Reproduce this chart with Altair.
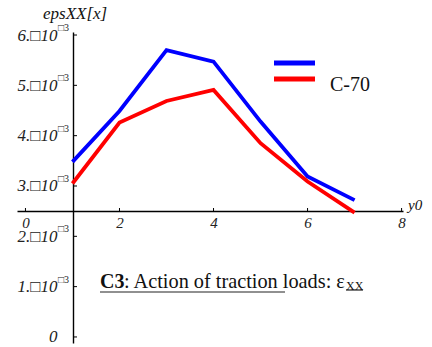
import altair as alt
import pandas as pd

# Strain values (in units of 1e-3) along y0 for the two load cases
y0 = [1, 2, 3, 4, 5, 6, 7]
eps_blue = [3.48, 4.49, 5.70, 5.47, 4.28, 3.19, 2.72]
eps_red = [3.05, 4.26, 4.69, 4.91, 3.85, 3.09, 2.47]
series_names = ["S1", "C-70"]
series_colors = ["#0000ff", "#ff0000"]

y_ticks = [0, 0.001, 0.002, 0.003, 0.004, 0.005, 0.006]
x_ticks = [0, 2, 4, 6, 8]

rows = []
for name, vals in zip(series_names, [eps_blue, eps_red]):
    for xv, v in zip(y0, vals):
        rows.append({"y0": xv, "eps": v * 1e-3, "series": name})
df = pd.DataFrame(rows)

FONT = "Liberation Serif"
W, H = 386, 311
X_DOM = [-0.18, 8.03]
Y_DOM = [-0.00012, 0.00606]
X_CROSS_OFFSET = -132   # x axis drawn at eps = 2.5e-3
Y_CROSS_OFFSET = -56    # y axis drawn at y0 = 1

x_scale = alt.Scale(domain=X_DOM, nice=False, zero=False)
y_scale = alt.Scale(domain=Y_DOM, nice=False, zero=False)

x_axis = alt.Axis(
    values=x_ticks, format="d", title=None, grid=False,
    offset=X_CROSS_OFFSET, tickSize=0, labelPadding=4,
    labelFont=FONT, labelFontStyle="italic", labelFontSize=15,
    labelColor="#222", domainColor="#000", domainWidth=1.4,
    labelFlush=False)
y_axis = alt.Axis(
    values=y_ticks, title=None, grid=False,
    labelExpr="datum.value == 0 ? '0' : format(datum.value*1000, 'd') + '.□10'",
    offset=Y_CROSS_OFFSET, tickSize=0, labelPadding=16,
    labelFont=FONT, labelFontStyle="italic", labelFontSize=17,
    labelColor="#222", domainColor="#000", domainWidth=1.4,
    labelFlush=False)

lines = alt.Chart(df).mark_line(strokeWidth=3.8, strokeJoin="miter").encode(
    x=alt.X("y0:Q", scale=x_scale, axis=x_axis),
    y=alt.Y("eps:Q", scale=y_scale, axis=y_axis),
    color=alt.Color("series:N", scale=alt.Scale(domain=series_names, range=series_colors), legend=None),
    order="y0:Q",
)

ytick_df = pd.DataFrame({"eps": y_ticks})
xtick_df = pd.DataFrame({"y0": x_ticks})

# exponent marks next to the y tick labels
sup = alt.Chart(ytick_df[ytick_df.eps > 0]).mark_text(
    font=FONT, fontSize=10, align="left", baseline="middle", dy=-7, color="#222"
).encode(x=alt.value(41), y=alt.Y("eps:Q", scale=y_scale, axis=y_axis), text=alt.value("□3"))

# inward tick marks
yticks = alt.Chart(ytick_df).mark_rule(color="#000", strokeWidth=1).encode(
    y=alt.Y("eps:Q", scale=y_scale, axis=y_axis), x=alt.value(56), x2=alt.value(60))
xticks = alt.Chart(xtick_df).mark_rule(color="#000", strokeWidth=1).encode(
    x=alt.X("y0:Q", scale=x_scale, axis=x_axis), y=alt.value(179), y2=alt.value(176))

one = pd.DataFrame({"k": [0]})

def label(text, x, y, size, style="normal", weight="normal", align="left", baseline="alphabetic"):
    return alt.Chart(one).mark_text(
        font=FONT, fontSize=size, fontStyle=style, fontWeight=weight,
        align=align, baseline=baseline, color="#111"
    ).encode(x=alt.value(x), y=alt.value(y), text=alt.value(text))

def hline(x1, x2, y, color, width):
    return alt.Chart(one).mark_rule(color=color, strokeWidth=width).encode(
        x=alt.value(x1), x2=alt.value(x2), y=alt.value(y))

y_title = label("epsXX[x]", 26, -13, 17, style="italic")
x_title = label("y0", 391, 178, 15, style="italic")

legend = [
    hline(257, 298, 31, series_colors[0], 5),
    hline(257, 298, 47, series_colors[1], 5),
    label("C-70", 313, 59, 20),
]

caption = [
    label("C3", 83, 255.5, 20, weight="bold"),
    label(": Action of traction loads: ε", 107, 255.5, 20.3),
    label("XX", 329, 258, 12),
    hline(83, 268, 260, "#222", 1.2),
    hline(329, 346, 258, "#222", 1.2),
]

chart = alt.layer(
    lines, yticks, xticks, sup, y_title, x_title, *legend, *caption
).properties(
    width=W, height=H,
    autosize=alt.AutoSizeParams(type="none"),
    padding={"left": 17, "top": 32, "right": 29, "bottom": 4},
    background="white",
).configure_view(stroke=None)

chart.save("out.html", embed_options={"renderer": "svg", "actions": False})
